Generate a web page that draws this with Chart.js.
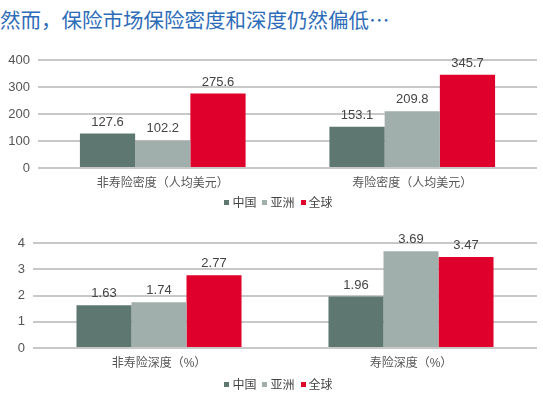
<!DOCTYPE html>
<html>
<head>
<meta charset="utf-8">
<script src="https://cdn.jsdelivr.net/npm/chart.js@4"></script>
<style>
  html, body { margin: 0; padding: 0; background: #fff; }
  body { width: 543px; height: 394px; position: relative; overflow: hidden; }
  .title {
    position: absolute; left: 0; top: 4px;
    font: 20.5px "Noto Sans CJK SC", sans-serif; color: #2d6cb8; white-space: nowrap;
  }
  .box { position: absolute; left: 0; width: 543px; }
  #box1 { top: 40px; height: 156px; }
  #box2 { top: 222px; height: 154px; }
  .legend {
    position: absolute; left: 0; width: 557px; height: 16px; line-height: 16px;
    text-align: center; font: 12px "Noto Sans CJK SC", sans-serif; color: #444;
  }
  #legend1 { top: 193px; }
  #legend2 { top: 375px; }
  .legend span { margin: 0 3px; }
  .legend i { display: inline-block; width: 5px; height: 5px; margin-right: 3px; vertical-align: 2px; }
</style>
</head>
<body>
<div class="title">然而，保险市场保险密度和深度仍然偏低…</div>
<div class="box" id="box1"><canvas id="density-chart"></canvas></div>
<div class="legend" id="legend1"></div>
<div class="box" id="box2"><canvas id="depth-chart"></canvas></div>
<div class="legend" id="legend2"></div>
<script>
const seriesNames = ['中国', '亚洲', '全球'];
const seriesColors = ['#5f7771', '#a1afac', '#e0002c'];

const densityCategories = ['非寿险密度（人均美元）', '寿险密度（人均美元）'];
const densityChina = [127.6, 153.1];
const densityAsia = [102.2, 209.8];
const densityGlobal = [275.6, 345.7];
const densityTicks = [0, 100, 200, 300, 400];

const depthCategories = ['非寿险深度（%）', '寿险深度（%）'];
const depthChina = [1.63, 1.96];
const depthAsia = [1.74, 3.69];
const depthGlobal = [2.77, 3.47];
const depthTicks = [0, 1, 2, 3, 4];

const FONT = '"Liberation Sans", "Noto Sans CJK SC", sans-serif';

// simple value labels above the bars
const valueLabels = {
  id: 'valueLabels',
  afterDatasetsDraw(chart, args, opts) {
    const ctx = chart.ctx;
    ctx.save();
    ctx.font = '13px ' + FONT;
    ctx.fillStyle = '#444';
    ctx.textAlign = 'center';
    ctx.textBaseline = 'bottom';
    chart.data.datasets.forEach((ds, i) => {
      chart.getDatasetMeta(i).data.forEach((bar, j) => {
        ctx.fillText(ds.data[j].toFixed(opts.decimals), bar.x, bar.y - 5);
      });
    });
    ctx.restore();
  },
};

function makeLegend(id) {
  document.getElementById(id).innerHTML = seriesNames.map((n, i) =>
    `<span><i style="background:${seriesColors[i]}"></i>${n}</span>`).join('');
}

function makeChart(id, categories, series, ticks, yWidth, topPad, decimals, catPct) {
  return new Chart(document.getElementById(id).getContext('2d'), {
    type: 'bar',
    data: {
      labels: categories,
      datasets: series.map((data, i) => ({
        label: seriesNames[i],
        data,
        backgroundColor: seriesColors[i],
        borderWidth: 0,
        categoryPercentage: catPct,
        barPercentage: 1,
      })),
    },
    options: {
      responsive: true, maintainAspectRatio: false, animation: false,
      layout: { padding: { top: topPad, right: 6, bottom: 0, left: 0 } },
      plugins: {
        legend: { display: false },
        tooltip: { enabled: false },
        valueLabels: { decimals },
      },
      scales: {
        x: {
          afterFit: s => { s.height = 28; },
          grid: { display: false },
          border: { display: false },
          ticks: { font: { family: FONT, size: 12 }, color: '#555', padding: 0 },
        },
        y: {
          min: ticks[0], max: ticks[ticks.length - 1],
          afterBuildTicks: s => { s.ticks = ticks.map(v => ({ value: v })); },
          afterFit: s => { s.width = yWidth; },
          grid: { color: '#c8c8c8', lineWidth: 2, drawTicks: false },
          border: { display: false },
          ticks: { font: { family: FONT, size: 13 }, color: '#555', padding: 8 },
        },
      },
    },
    plugins: [valueLabels],
  });
}

makeChart('density-chart', densityCategories, [densityChina, densityAsia, densityGlobal], densityTicks, 38, 20, 1, 0.664);
makeChart('depth-chart', depthCategories, [depthChina, depthAsia, depthGlobal], depthTicks, 33, 21, 2, 0.655);
makeLegend('legend1');
makeLegend('legend2');
</script>
</body>
</html>
